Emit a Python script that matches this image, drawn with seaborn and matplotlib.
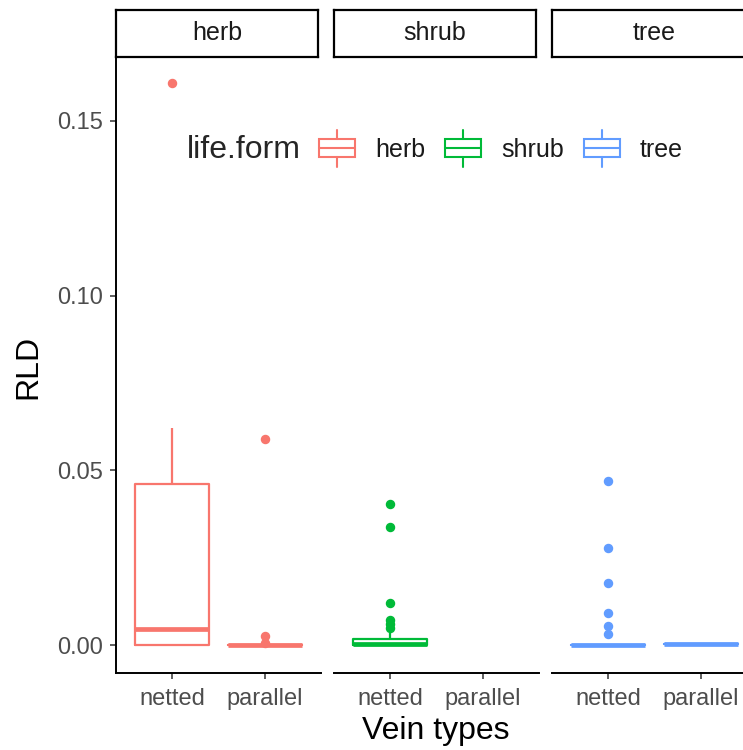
import numpy as np
import pandas as pd
import matplotlib
matplotlib.use("Agg")
import matplotlib.pyplot as plt
from matplotlib.legend_handler import HandlerBase
from matplotlib.lines import Line2D
from matplotlib.patches import Rectangle
from matplotlib.offsetbox import HPacker
import seaborn as sns

# ---- data ----
life_forms = ["herb", "shrub", "tree"]
vein_types = ["netted", "parallel"]
palette = ["#F8766D", "#00BA38", "#619CFF"]

herb_netted = [0.0, 0.0, 0.0, 0.002, 0.0045, 0.030, 0.046, 0.062, 0.161]
herb_parallel = [0.0, 0.0, 0.0, 0.0, 0.0, 0.0, 0.0, 0.0, 0.0, 0.0, 0.0006, 0.0026, 0.059]
shrub_netted = [0.0, 0.0, 0.0, 0.0, 0.0, 0.0, 0.0, 0.0,
                0.0001, 0.0001, 0.0002, 0.0002, 0.0002, 0.0003, 0.0003,
                0.0005, 0.0007, 0.0009, 0.0011, 0.0013, 0.0015, 0.0016,
                0.0034, 0.0049, 0.006, 0.0072, 0.012, 0.0338, 0.0404]
shrub_parallel = []
tree_netted = [0.0] * 20 + [0.0031, 0.0054, 0.0092, 0.0177, 0.0278, 0.047]
tree_parallel = [0.0003, 0.0003, 0.0003, 0.0003]

groups = {
    ("herb", "netted"): herb_netted,
    ("herb", "parallel"): herb_parallel,
    ("shrub", "netted"): shrub_netted,
    ("shrub", "parallel"): shrub_parallel,
    ("tree", "netted"): tree_netted,
    ("tree", "parallel"): tree_parallel,
}
rows = []
for (lf, vt), vals in groups.items():
    for v in vals:
        rows.append({"life.form": lf, "vein": vt, "RLD": v})
df = pd.DataFrame(rows)

y_ticks = [0.00, 0.05, 0.10, 0.15]
y_tick_labels = ["0.00", "0.05", "0.10", "0.15"]

# ---- figure ----
sns.set_theme(style="white")
plt.rcParams["font.family"] = ["Liberation Sans", "DejaVu Sans"]

W, H = 743, 750
fig = plt.figure(figsize=(W / 100, H / 100), dpi=100)

def fx(px):
    return px / W

def fy(py):
    return 1 - py / H

panel_left = [116, 334, 552]
panel_w = 205
top, bottom = 57, 673
strip_top = 10
TICK_FS = 17

axes = []
for i, lf in enumerate(life_forms):
    ax = fig.add_axes([fx(panel_left[i]), fy(bottom), panel_w / W, (bottom - top) / H])
    axes.append(ax)
    sub = df[df["life.form"] == lf]
    col = palette[i]
    if len(sub):
        sns.boxplot(data=sub, x="vein", y="RLD", order=vein_types, ax=ax,
                    color=col, fill=False, width=0.8, linewidth=1.6,
                    showcaps=False,
                    medianprops=dict(color=col, linewidth=3.4),
                    boxprops=dict(color=col, linewidth=1.6),
                    whiskerprops=dict(color=col, linewidth=1.6),
                    flierprops=dict(marker="o", markerfacecolor=col,
                                    markeredgecolor=col, markersize=5.8))
    ax.set_xlim(-0.6, 1.6)
    ax.set_ylim(-0.008, 0.1683)
    ax.set_xticks([0, 1])
    ax.set_xticklabels(vein_types)
    ax.set_xlabel("")
    ax.set_ylabel("")
    ax.set_facecolor("white")
    for s in ["top", "right"]:
        ax.spines[s].set_visible(False)
    ax.spines["bottom"].set_color("black")
    ax.spines["bottom"].set_linewidth(1.4)
    ax.tick_params(axis="x", length=4.5, width=1.1, color="#333333",
                   labelsize=TICK_FS, labelcolor="#4D4D4D", pad=6, bottom=True)
    if i == 0:
        ax.spines["left"].set_color("black")
        ax.spines["left"].set_linewidth(1.4)
        ax.set_yticks(y_ticks)
        ax.set_yticklabels(y_tick_labels)
        ax.tick_params(axis="y", length=4.5, width=1.1, color="#333333",
                       labelsize=TICK_FS, labelcolor="#4D4D4D", pad=5, left=True)
    else:
        ax.spines["left"].set_visible(False)
        ax.set_yticks(y_ticks)
        ax.tick_params(axis="y", left=False, labelleft=False)

    # strip
    sw = 202 if i < 2 else 205
    sax = fig.add_axes([fx(panel_left[i]), fy(top), sw / W, (top - strip_top) / H])
    sax.set_xticks([]); sax.set_yticks([])
    sax.set_facecolor("white")
    for s in sax.spines.values():
        s.set_color("black"); s.set_linewidth(1.6); s.set_visible(True)
    sax.text(0.5, 0.5, lf, ha="center", va="center", fontsize=18,
             color="#1A1A1A", transform=sax.transAxes)

# axis titles
fig.text(fx(436), fy(731), "Vein types", ha="center", va="center", fontsize=23, color="black")
fig.text(fx(28), fy(367), "RLD", ha="center", va="center", rotation=90, fontsize=23, color="black")

# legend with box glyphs
class BoxHandler(HandlerBase):
    def create_artists(self, legend, orig_handle, xdescent, ydescent, width, height, fontsize, trans):
        col = orig_handle.get_color()
        bw = width
        x0 = -xdescent
        bh = height
        y0 = -ydescent
        lw = 1.5
        rect = Rectangle((x0, y0), bw, bh, facecolor="none", edgecolor=col, linewidth=lw, transform=trans)
        xm = x0 + bw / 2
        med = Line2D([x0, x0 + bw], [y0 + bh / 2] * 2, color=col, linewidth=lw, transform=trans)
        w1 = Line2D([xm, xm], [y0 + bh, y0 + bh + height * 0.55], color=col, linewidth=lw, transform=trans)
        w2 = Line2D([xm, xm], [y0, y0 - height * 0.55], color=col, linewidth=lw, transform=trans)
        return [rect, med, w1, w2]

handles = [Line2D([], [], color=c) for c in palette]
leg = fig.legend(handles, life_forms, handler_map={Line2D: BoxHandler()},
                 loc="center", bbox_to_anchor=(fx(435), fy(150)), ncol=3,
                 frameon=False, fontsize=18, title="life.form",
                 handlelength=1.44, handleheight=0.72, handletextpad=0.8,
                 columnspacing=0.8)
title_box = leg._legend_title_box
handle_box = leg._legend_handle_box
leg._legend_box._children = [HPacker(pad=0, sep=13, children=[title_box, handle_box], align="center")]
leg.get_title().set_fontsize(23)
for t in leg.get_texts():
    t.set_color("#1A1A1A")

fig.savefig("out.png", dpi=100, facecolor="white")
